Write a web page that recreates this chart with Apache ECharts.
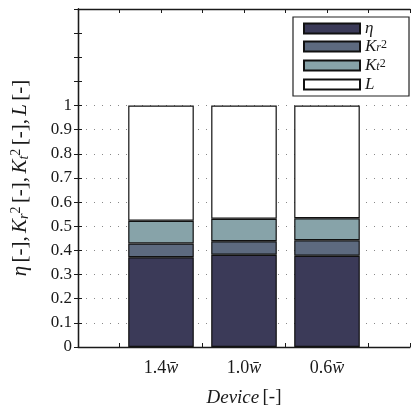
<!DOCTYPE html>
<html>
<head>
<meta charset="utf-8">
<script src="https://cdn.jsdelivr.net/npm/echarts@6/dist/echarts.min.js"></script>
<style>
html, body { margin: 0; padding: 0; background: #fff; }
#chart { width: 420px; height: 418px; }
</style>
</head>
<body>
<div id="chart"></div>
<script>
// devices (bar labels), in plot order
const devices = ['1.4', '1.0', '0.6'];
// stacked shares per device
const etaValues = [0.372, 0.382, 0.378];
const krValues = [0.057, 0.056, 0.064];
const ktValues = [0.094, 0.093, 0.091];
const lValues = [0.477, 0.469, 0.467];
const yTicksShown = [0, 0.1, 0.2, 0.3, 0.4, 0.5, 0.6, 0.7, 0.8, 0.9, 1];

const FONT = 'Liberation Serif';
const INK = '#1a1a1a';

// one empty slot on each side, bars sit on ticks 1..3 of a 0..4 range
const cats = [''].concat(devices, ['']);
const pad = arr => [null].concat(arr, [null]);

// rich text styles at a given size (italic math, upright text, sub/sup)
function makeRich(size, lh, shift) {
    const small = Math.round(size * 0.68);
    const base = { fontFamily: FONT, color: INK };
    if (lh) base.lineHeight = lh;
    const s = shift != null ? shift : Math.round(size * 0.35);
    return {
        i: Object.assign({}, base, { fontStyle: 'italic', fontSize: size }),
        n: Object.assign({}, base, { fontSize: size }),
        sub: Object.assign({}, base, { fontStyle: 'italic', fontSize: small, verticalAlign: 'bottom', padding: [s, 0, 0, 0] }),
        sup: Object.assign({}, base, { fontSize: small, verticalAlign: 'top', padding: [0, 0, s + 1, 0] })
    };
}

const legendText = {
    eta: '{i|η}',
    kr: '{i|K}{sub|r}{sup|2}',
    kt: '{i|K}{sub|t}{sup|2}',
    L: '{i|L}'
};

function barSeries(name, values, color) {
    return {
        name: name,
        type: 'bar',
        stack: 'total',
        barWidth: '79%',
        data: pad(values),
        itemStyle: { color: color, borderColor: '#111', borderWidth: 1.2 },
        emphasis: { disabled: true }
    };
}

// grid lines only up to 1, nothing above
const gridColors = [];
for (let i = 0; i <= 14; i++) gridColors.push(i <= 10 ? '#888' : 'rgba(0,0,0,0)');

const chart = echarts.init(document.getElementById('chart'));
chart.setOption({
    animation: false,
    backgroundColor: '#fff',
    grid: { left: 78, right: 10, top: 9, bottom: 71 },
    legend: {
        orient: 'vertical',
        left: 293,
        top: 17,
        padding: [3, 22, 3, 10],
        borderColor: '#222',
        borderWidth: 1.2,
        backgroundColor: '#fff',
        itemWidth: 56,
        itemHeight: 10,
        itemGap: 1,
        icon: 'rect',
        data: ['eta', 'kr', 'kt', 'L'],
        formatter: name => legendText[name],
        textStyle: { rich: makeRich(17, 15, 4), fontFamily: FONT }
    },
    xAxis: [{
        type: 'category',
        data: cats,
        boundaryGap: false,
        axisLine: { lineStyle: { color: INK, width: 1.3 } },
        axisTick: { show: false },
        axisLabel: {
            interval: 0,
            margin: 12,
            formatter: v => v ? '{n|' + v + '}{i|w\u0304}' : '',
            rich: makeRich(18)
        },
        name: '{i|Device} {n|[-]}',
        nameLocation: 'middle',
        nameGap: 41,
        nameTextStyle: { rich: makeRich(19) }
    }, {
        type: 'value', min: 0, max: 4, interval: 0.5, position: 'bottom',
        axisLine: { show: false },
        axisTick: { inside: true, length: 4, lineStyle: { color: INK } },
        axisLabel: { show: false },
        splitLine: { show: false }
    }, {
        type: 'value', min: 0, max: 4, interval: 0.5, position: 'top',
        axisLine: { show: true, lineStyle: { color: INK, width: 1.3 } },
        axisTick: { inside: true, length: 4, lineStyle: { color: INK } },
        axisLabel: { show: false },
        splitLine: { show: false }
    }],
    yAxis: [{
        type: 'value',
        min: 0,
        max: 1.4,
        interval: 0.1,
        axisLine: { show: true, lineStyle: { color: INK, width: 1.3 } },
        axisTick: { inside: true, length: 4, lineStyle: { color: INK } },
        axisLabel: {
            margin: 6,
            fontFamily: FONT,
            fontSize: 17,
            color: INK,
            formatter: v => {
                const r = Math.round(v * 10) / 10;
                return yTicksShown.indexOf(r) >= 0 ? String(r) : '';
            }
        },
        splitLine: { show: true, lineStyle: { type: [1, 7], color: gridColors, width: 1.2 } },
        name: '{i|η} {n|[-],} {i|K}{sub|r}{sup|2} {n|[-],} {i|K}{sub|t}{sup|2} {n|[-],} {i|L} {n|[-]}',
        nameLocation: 'middle',
        nameRotate: 90,
        nameGap: 47,
        nameTextStyle: { rich: makeRich(21) }
    }, {
        type: 'value', min: 0, max: 1.4, interval: 0.1, position: 'right',
        axisLine: { show: true, lineStyle: { color: INK, width: 1.3 } },
        axisTick: { inside: true, length: 4, lineStyle: { color: INK } },
        axisLabel: { show: false },
        splitLine: { show: false }
    }],
    series: [
        barSeries('eta', etaValues, '#3b3a58'),
        barSeries('kr', krValues, '#5d6a7f'),
        barSeries('kt', ktValues, '#87a3a9'),
        barSeries('L', lValues, '#ffffff')
    ]
});
</script>
</body>
</html>
